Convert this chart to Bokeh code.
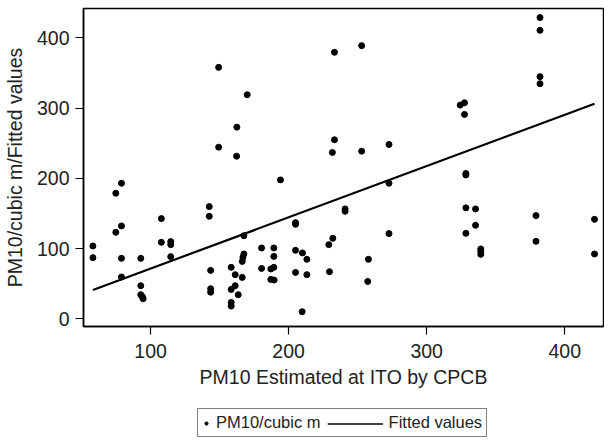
from bokeh.plotting import figure
from bokeh.layouts import column
from bokeh.models import Range1d, FixedTicker, Legend, LegendItem
from bokeh.embed import file_html
from bokeh.resources import INLINE

# ---- data ----
pm10_cpcb = [149.3, 170.0, 162.5, 149.3, 162.3,
             233.2, 252.9, 233.2, 231.7, 252.9, 272.7,
             382.1, 382.1, 382.1, 382.1, 324.3, 327.4, 327.4,
             58.2, 58.2, 74.8, 78.9, 74.8, 78.9, 78.9, 78.9, 92.9, 92.9, 92.9, 94.1, 94.6,
             107.8, 107.8, 114.6, 114.6, 114.6, 142.5, 142.5, 143.5, 143.5, 143.5,
             158.4, 161.3, 158.4, 161.3, 163.5, 158.4, 158.4, 167.6, 167.6, 166.9, 166.4, 166.4,
             180.4, 180.4,
             189.3, 189.3, 189.3, 187.1, 187.1, 189.5, 194.1, 205.0, 205.0, 205.0, 205.0,
             210.0, 213.2, 213.2, 209.8, 229.1, 232.0, 229.6, 240.9, 240.9, 257.8, 257.3,
             272.7, 272.7,
             328.4, 328.4, 328.4, 335.4, 335.4, 328.4, 339.2, 339.2, 339.2, 379.2, 379.2,
             421.6, 421.6]
pm10_cubic_m = [357.8, 318.9, 272.8, 244.3, 231.5,
                379.2, 388.7, 254.8, 236.8, 238.6, 248.1,
                428.6, 410.5, 344.6, 334.6, 304.1, 307.5, 290.9,
                103.8, 87.2, 178.8, 193.0, 123.2, 132.3, 86.2, 59.7, 86.2, 47.3, 34.5, 31.6, 28.8,
                142.7, 109.0, 110.0, 105.7, 88.6, 159.8, 146.0, 69.1, 43.0, 38.0,
                73.4, 63.0, 42.0, 47.3, 34.5, 23.5, 18.4, 118.5, 92.4, 87.6, 81.9, 59.1,
                101.0, 71.9,
                101.0, 89.0, 73.4, 71.1, 56.3, 55.4, 197.8, 137.0, 134.6, 97.6, 66.2,
                93.9, 84.8, 63.0, 10.3, 105.7, 114.7, 67.2, 156.5, 153.1, 84.8, 53.4,
                193.0, 121.4,
                206.8, 204.8, 158.0, 156.5, 133.2, 121.8, 99.6, 96.0, 91.9, 147.0, 110.4,
                141.7, 92.4]
fit_x = [58.2, 421.6]
fit_y = [41.2, 306.0]
x_ticks = [100, 200, 300, 400]
y_ticks = [0, 100, 200, 300, 400]
series_labels = ["PM10/cubic m", "Fitted values"]

TXT = "#222222"
FONT = "Liberation Sans"

p = figure(width=604, height=396, output_backend="svg", toolbar_location=None,
           x_range=Range1d(51.4, 428.1), y_range=Range1d(-10.7, 441.5),
           min_border_left=82, min_border_right=1, min_border_top=8, min_border_bottom=70)

p.outline_line_color = "black"
p.outline_line_width = 1.5
p.grid.visible = False
p.background_fill_color = "white"
p.border_fill_color = "white"

for ax in (p.xaxis[0], p.yaxis[0]):
    ax.axis_line_color = "black"
    ax.axis_line_width = 1.5
    ax.major_tick_line_color = "black"
    ax.major_tick_line_width = 1.2
    ax.major_tick_out = 8
    ax.major_tick_in = 0
    ax.minor_tick_line_color = None
    ax.major_label_text_font = FONT
    ax.major_label_text_font_size = "19.5px"
    ax.major_label_text_color = TXT
    ax.axis_label_text_font = FONT
    ax.axis_label_text_font_size = "19.5px"
    ax.axis_label_text_font_style = "normal"
    ax.axis_label_text_color = TXT

p.xaxis.ticker = FixedTicker(ticks=x_ticks)
p.yaxis.ticker = FixedTicker(ticks=y_ticks)
p.xaxis.axis_label = "PM10 Estimated at ITO by CPCB"
p.yaxis.axis_label = "PM10/cubic m/Fitted values"
p.xaxis.major_label_standoff = 9
p.xaxis.axis_label_standoff = 5
p.yaxis.major_label_standoff = 6
p.yaxis.axis_label_standoff = 8
p.yaxis.major_label_orientation = "horizontal"

p.scatter(pm10_cpcb, pm10_cubic_m, size=6, color="black")
p.line(fit_x, fit_y, line_color="black", line_width=2.2)

# ---- legend strip below the plot (its frame aligns with the main frame;
#      ranges are in pixels so the swatch line can be placed in the box) ----
lf = figure(width=604, height=44, output_backend="svg", toolbar_location=None,
            x_range=Range1d(0, 521), y_range=Range1d(0, 44),
            x_axis_location=None, y_axis_location=None,
            min_border_left=82, min_border_right=1,
            min_border_top=0, min_border_bottom=0)
lf.outline_line_color = None
lf.grid.visible = False
lf.background_fill_color = "white"
lf.border_fill_color = "white"

# legend swatch renderers: kept outside the strip's visible range
dot_r = lf.scatter(x=[-5], y=[-5], size=6, color="black")
line_r = lf.line(x=[-6, -5], y=[-5, -5], line_color="black", line_width=1.3, line_alpha=0.0)

legend = Legend(items=[LegendItem(label=series_labels[0], renderers=[dot_r]),
                       LegendItem(label=series_labels[1], renderers=[line_r])],
                location=(114, 3), orientation="horizontal",
                glyph_width=8, glyph_height=16, label_height=16,
                label_standoff=6, spacing=54, padding=4, margin=0,
                label_text_font=FONT, label_text_font_size="16.5px",
                label_text_color=TXT, border_line_color="black",
                border_line_width=1.2, background_fill_alpha=0.0)
lf.add_layout(legend, "center")

# long line swatch of the "Fitted values" key, drawn inside the legend box
lf.segment(x0=[244.7], y0=[16.5], x1=[300.0], y1=[16.5],
           line_color="black", line_width=1.3)

layout = column(p, lf, spacing=0)
open("out.html", "w").write(file_html(layout, INLINE))
